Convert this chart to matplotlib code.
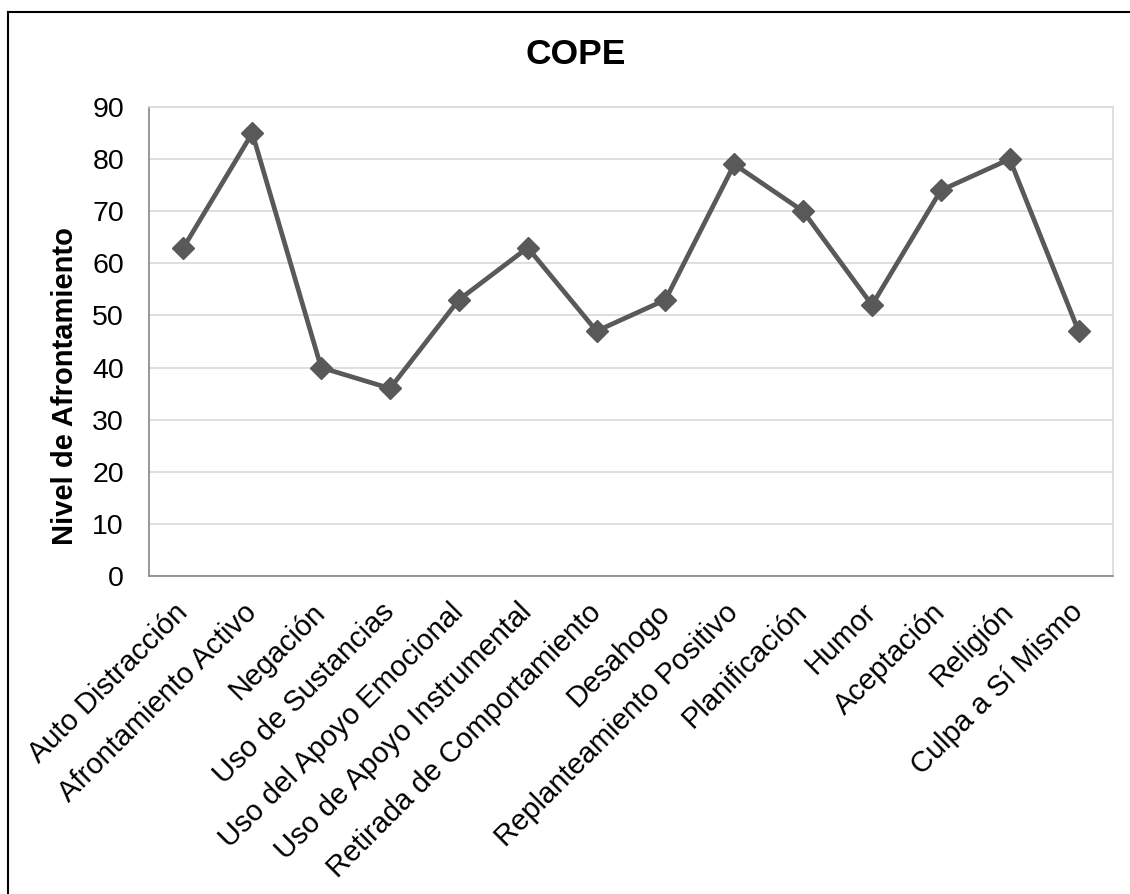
import matplotlib
matplotlib.use("Agg")
import matplotlib.pyplot as plt
from matplotlib.lines import Line2D

categories = [
    "Auto Distracción", "Afrontamiento Activo", "Negación", "Uso de Sustancias",
    "Uso del Apoyo Emocional", "Uso de Apoyo Instrumental",
    "Retirada de Comportamiento", "Desahogo", "Replanteamiento Positivo",
    "Planificación", "Humor", "Aceptación", "Religión", "Culpa a Sí Mismo",
]
values = [63, 85, 40, 36, 53, 63, 47, 53, 79, 70, 52, 74, 80, 47]
y_ticks = [0, 10, 20, 30, 40, 50, 60, 70, 80, 90]

plt.rcParams["font.family"] = ["Liberation Sans", "DejaVu Sans"]

W, H = 1130, 894
fig = plt.figure(figsize=(W / 100, H / 100), dpi=100)
fig.patch.set_facecolor("white")

# chart frame (left and top edges)
fig.add_artist(Line2D([8 / W, 8 / W], [0, 1 - 12 / H], transform=fig.transFigure,
                      color="black", lw=1.5))
fig.add_artist(Line2D([8 / W, 1], [1 - 12 / H, 1 - 12 / H], transform=fig.transFigure,
                      color="black", lw=1.5))

left, right = 149 / W, 1113 / W
bottom, top = 1 - 576 / H, 1 - 107 / H
ax = fig.add_axes([left, bottom, right - left, top - bottom])

x = list(range(len(categories)))
ax.plot(x, values, color="#595959", lw=3.4, marker="D", markersize=11,
        markerfacecolor="#595959", markeredgecolor="#595959", zorder=3)

ax.set_xlim(-0.5, len(categories) - 0.5)
ax.set_ylim(0, 90)
ax.set_yticks(y_ticks)
ax.set_yticklabels([str(v) for v in y_ticks], fontsize=20.5)
ax.yaxis.grid(True, color="#d9d9d9", lw=1.2)
ax.set_axisbelow(True)

ax.set_xticks(x)
ax.set_xticklabels(categories, rotation=45, ha="right", va="center",
                   rotation_mode="anchor", fontsize=21)
ax.tick_params(axis="x", length=0, pad=23)
ax.tick_params(axis="y", length=0, pad=18)

for side in ("top", "right"):
    ax.spines[side].set_color("#d9d9d9")
    ax.spines[side].set_linewidth(1.2)
for side in ("left", "bottom"):
    ax.spines[side].set_color("#868686")
    ax.spines[side].set_linewidth(1.2)

fig.text(576 / W, 1 - 54 / H, "COPE", ha="center", va="center",
         fontsize=25.5, fontweight="bold")
fig.text(65 / W, 1 - 386 / H, "Nivel de Afrontamiento", ha="center", va="center",
         rotation=90, fontsize=21, fontweight="bold")

fig.savefig("out.png", dpi=100, facecolor="white")
